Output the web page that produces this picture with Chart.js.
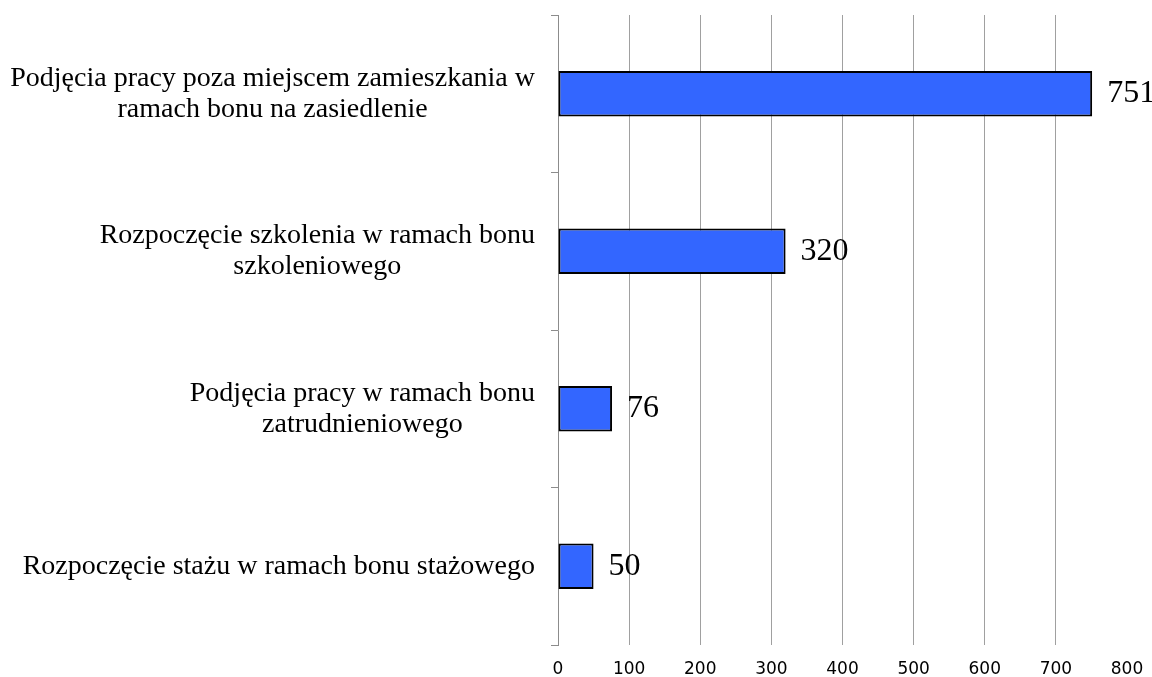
<!DOCTYPE html>
<html lang="pl">
<head>
  <meta charset="UTF-8" />
  <title>Bony</title>
  <script src="https://cdn.jsdelivr.net/npm/chart.js"></script>
  <style>
    body { margin: 0; background: #fff; }
  </style>
</head>
<body>
  <canvas id="bonyChart" width="1152" height="677"></canvas>

  <script>
    const categories = [
      ['Podjęcia pracy poza miejscem zamieszkania w', 'ramach bonu na zasiedlenie'],
      ['Rozpoczęcie szkolenia w ramach bonu', 'szkoleniowego'],
      ['Podjęcia pracy w ramach bonu', 'zatrudnieniowego'],
      ['Rozpoczęcie stażu w ramach bonu stażowego']
    ];
    const values = [751, 320, 76, 50];
    const xTicks = [0, 100, 200, 300, 400, 500, 600, 700, 800];

    const SERIF = "'Liberation Serif', 'Times New Roman', serif";
    const AXIS_LEFT = 558;

    // category labels: block right-aligned, lines centered to each other
    const categoryLabels = {
      id: 'categoryLabels',
      afterDraw(chart) {
        const ctx = chart.ctx;
        const yScale = chart.scales.y;
        ctx.save();
        ctx.font = '28px ' + SERIF;
        ctx.fillStyle = '#000';
        ctx.textAlign = 'center';
        ctx.textBaseline = 'middle';
        const lineH = 31;
        categories.forEach((lines, i) => {
          const y = yScale.getPixelForTick(i);
          const w = Math.max(...lines.map(l => ctx.measureText(l).width));
          const cx = 535 - w / 2;
          const y0 = y - (lines.length - 1) * lineH / 2;
          lines.forEach((l, j) => ctx.fillText(l, cx, y0 + j * lineH));
        });
        ctx.restore();
      }
    };

    const valueLabels = {
      id: 'valueLabels',
      afterDatasetsDraw(chart) {
        const ctx = chart.ctx;
        const meta = chart.getDatasetMeta(0);
        ctx.save();
        ctx.font = '32px ' + SERIF;
        ctx.fillStyle = '#000';
        ctx.textAlign = 'left';
        ctx.textBaseline = 'middle';
        meta.data.forEach((bar, i) => {
          ctx.fillText(String(values[i]), bar.x + 15, bar.y);
        });
        ctx.restore();
      }
    };

    new Chart(document.getElementById('bonyChart'), {
      type: 'bar',
      data: {
        labels: categories,
        datasets: [{
          data: values,
          backgroundColor: '#3366FF',
          borderColor: '#000',
          borderWidth: 2,
          borderSkipped: false,
          barPercentage: 0.29,
          categoryPercentage: 1
        }]
      },
      options: {
        indexAxis: 'y',
        responsive: false,
        animation: false,
        devicePixelRatio: 1,
        layout: { padding: { top: 15, right: 25, bottom: 0, left: 0 } },
        plugins: { legend: { display: false }, tooltip: { enabled: false } },
        scales: {
          x: {
            min: 0,
            max: 800,
            afterBuildTicks: s => { s.ticks = xTicks.map(v => ({ value: v })); },
            afterFit: s => {
              s.height = 32;
              s.paddingLeft = 0;
              s.paddingRight = 0;
            },
            border: { display: false },
            grid: {
              drawTicks: false,
              color: c => (c.tick && (c.tick.value === 0 || c.tick.value === 800)) ? 'rgba(0,0,0,0)' : '#a0a0a0',
              lineWidth: 1
            },
            ticks: {
              padding: 14,
              color: '#000',
              font: { family: "'DejaVu Sans', sans-serif", size: 17 }
            }
          },
          y: {
            afterFit: s => { s.width = AXIS_LEFT; },
            border: { display: true, color: '#8c8c8c', width: 1 },
            grid: {
              drawOnChartArea: false,
              offset: true,
              tickLength: 7,
              color: '#8c8c8c'
            },
            ticks: { display: false }
          }
        }
      },
      plugins: [categoryLabels, valueLabels]
    });
  </script>
</body>
</html>
